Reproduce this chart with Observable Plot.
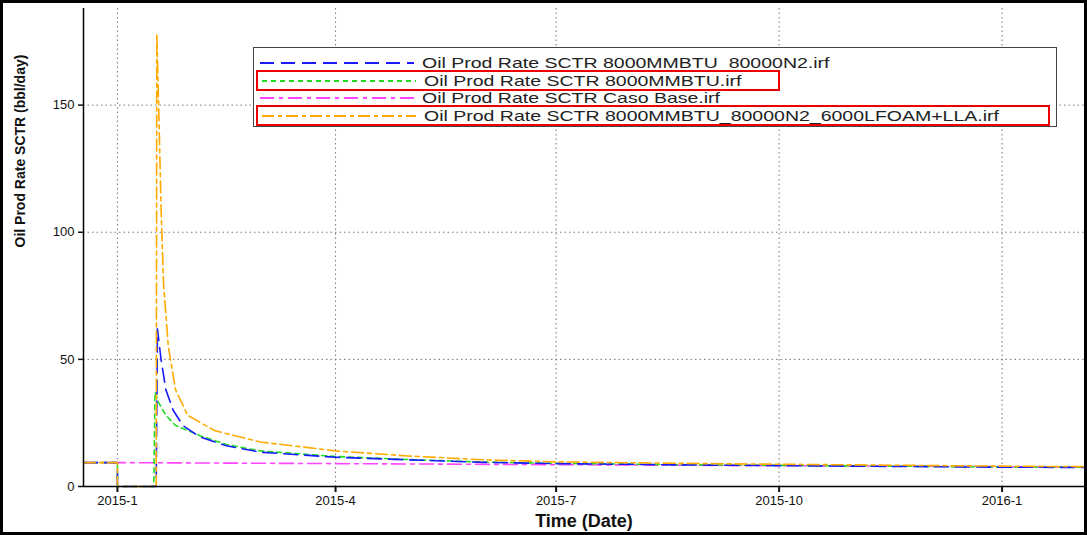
<!DOCTYPE html>
<html><head><meta charset="utf-8">
<script src="https://cdn.jsdelivr.net/npm/d3@7"></script>
<script src="https://cdn.jsdelivr.net/npm/@observablehq/plot@0.6"></script>
<style>
body{margin:0;background:#fff;font-family:"Liberation Sans",Arial,sans-serif}
#wrap{position:relative;width:1081px;height:529px;border:3px solid #000;overflow:hidden}
#legend{position:absolute;left:250px;top:44px;width:802px;height:78px;border:1px solid #444;background:#fff;font-size:15px;color:#222}
.row{position:absolute;left:2px;height:17px;line-height:17px;white-space:nowrap}
.row svg{position:absolute;left:2px;top:6px}
.row span{position:absolute;left:166px;top:0;transform-origin:0 50%;transform:scaleX(1.3)}
.hl{border:2px solid #e00;margin-top:-2px}
</style></head>
<body><div id="wrap"><div id="chart"></div><div id="legend"></div></div>
<script>
const names = [
  "Oil Prod Rate SCTR 8000MMBTU_80000N2.irf",
  "Oil Prod Rate SCTR 8000MMBTU.irf",
  "Oil Prod Rate SCTR Caso Base.irf",
  "Oil Prod Rate SCTR 8000MMBTU_80000N2_6000LFOAM+LLA.irf"
];
const colors = ["#1a1aff", "#22dd22", "#ff44ff", "#ffaa00"];
const dashes = ["14,7", "5,4", "14,5,4,5", "12,4,4,4"];
const hlWidths = [0, 520, 0, 790];

// [date, bbl/day]
const blue = [["2014-12-18",9.4],["2015-01-01",9.4],["2015-01-01",0],["2015-01-17",0],["2015-01-17T12:00",62],["2015-01-19",50],["2015-01-21",38],["2015-01-24",30],["2015-01-28",24],["2015-02-04",19.5],["2015-02-15",16],["2015-03-01",13.5],["2015-04-01",11.5],["2015-05-01",10.5],["2015-06-01",9.5],["2015-07-01",9],["2015-08-01",8.7],["2015-09-01",8.4],["2015-10-01",8.2],["2015-11-01",8],["2015-12-01",7.8],["2016-01-01",7.6],["2016-02-05",7.5]];
const green = [["2014-12-18",9.4],["2015-01-01",9.4],["2015-01-01",0],["2015-01-16",0],["2015-01-16T12:00",37],["2015-01-18",33],["2015-01-21",28],["2015-01-25",24],["2015-02-04",20],["2015-02-15",16.5],["2015-03-01",14],["2015-04-01",11.8],["2015-05-01",10.6],["2015-06-01",9.6],["2015-07-01",9.1],["2015-08-01",8.8],["2015-09-01",8.5],["2015-10-01",8.3],["2015-11-01",8.1],["2015-12-01",7.9],["2016-01-01",7.7],["2016-02-05",7.6]];
const pink = [["2014-12-18",9.4],["2015-01-01",9.4],["2015-04-01",9],["2015-07-01",8.6],["2015-10-01",8.2],["2016-01-01",7.8],["2016-02-05",7.6]];
const orange = [["2014-12-18",9.4],["2015-01-01",9.4],["2015-01-01",0],["2015-01-17",0],["2015-01-17T06:00",178],["2015-01-18",150],["2015-01-19",110],["2015-01-20",80],["2015-01-22",55],["2015-01-25",38],["2015-01-30",28],["2015-02-10",22],["2015-03-01",17.5],["2015-04-01",14],["2015-05-01",12],["2015-06-01",10.5],["2015-07-01",9.7],["2015-09-01",9],["2015-11-01",8.5],["2016-01-01",8],["2016-02-05",7.8]];
const series = [blue, green, pink, orange];
const xTicks = ["2015-01-01","2015-04-01","2015-07-01","2015-10-01","2016-01-01"];
const yTicks = [0, 50, 100, 150];

const rows = series.flatMap((s, i) => s.map(([d, v]) => ({date: new Date(d), v, k: i})));
const order = [2, 1, 0, 3];
const fmt = d => `${d.getUTCFullYear()}-${d.getUTCMonth() + 1}`;

const chart = Plot.plot({
  width: 1081, height: 529,
  marginLeft: 80, marginRight: 0, marginTop: 5, marginBottom: 46,
  style: {fontFamily: "Liberation Sans, Arial, sans-serif", fontSize: "13px", color: "#111"},
  x: {type: "utc", domain: [new Date("2014-12-18"), new Date("2016-02-04")], label: null},
  y: {domain: [0, 188], label: null},
  marks: [
    Plot.gridX(xTicks.map(d => new Date(d)), {stroke: "#555", strokeOpacity: 0.8, strokeDasharray: "1.5,3"}),
    Plot.gridY(yTicks.slice(1), {stroke: "#555", strokeOpacity: 0.8, strokeDasharray: "1.5,3"}),
    ...order.map(i => Plot.line(rows.filter(r => r.k === i), {x: "date", y: "v", stroke: colors[i], strokeWidth: 1.6, strokeDasharray: dashes[i]})),
    Plot.ruleX([new Date("2014-12-18")], {stroke: "#000", strokeWidth: 1.5}),
    Plot.ruleY([0], {stroke: "#000", strokeWidth: 1.5}),
    Plot.axisX({ticks: xTicks.map(d => new Date(d)), tickFormat: fmt, tickSize: 6, strokeWidth: 2, fontSize: 13}),
    Plot.axisY({ticks: yTicks, tickSize: 5, strokeWidth: 1.5, fontSize: 13}),
    Plot.text(["Time (Date)"], {frameAnchor: "bottom", dy: 40, fontSize: 18, fontWeight: "bold"}),
    Plot.text(["Oil Prod Rate SCTR (bbl/day)"], {frameAnchor: "left", dx: -63, rotate: -90, fontSize: 14, fontWeight: "bold"})
  ]
});
d3.select("#chart").append(() => chart);

const lg = d3.select("#legend");
names.forEach((n, i) => {
  const r = lg.append("div").attr("class", "row" + (hlWidths[i] ? " hl" : ""))
    .style("top", `${6 + i * 17.5}px`).style("width", `${hlWidths[i] || 790}px`);
  const s = r.append("svg").attr("width", 158).attr("height", 6);
  s.append("line").attr("x1", 2).attr("x2", 156).attr("y1", 3).attr("y2", 3)
    .attr("stroke", colors[i]).attr("stroke-width", 2.2).attr("stroke-dasharray", dashes[i]);
  r.append("span").text(n);
});
</script></body></html>
